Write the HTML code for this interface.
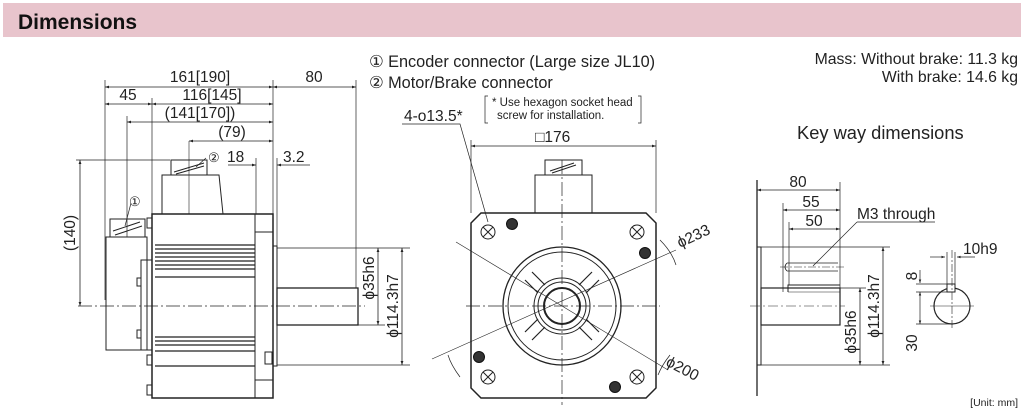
<!DOCTYPE html>
<html><head><meta charset="utf-8"><style>
html,body{margin:0;padding:0;background:#fff;width:1024px;height:411px;overflow:hidden}
svg{display:block;font-family:"Liberation Sans",sans-serif}
</style></head><body>
<svg width="1024" height="411" viewBox="0 0 1024 411" xmlns="http://www.w3.org/2000/svg">
<defs>
<marker id="a" viewBox="0 0 10 10" refX="10" refY="5" markerWidth="7" markerHeight="5" orient="auto-start-reverse"><path d="M0,1.5 L10,5 L0,8.5z" fill="#222"/></marker>
</defs>
<rect x="3" y="3" width="1018" height="34" fill="#e8c4cc"/>
<text x="18" y="29" font-size="21" font-weight="bold" fill="#111">Dimensions</text>

<g font-size="16.3" fill="#222">
<text x="369" y="67">① Encoder connector (Large size JL10)</text>
<text x="369" y="88">② Motor/Brake connector</text>
<text x="1018" y="64" text-anchor="end" font-size="15.8">Mass: Without brake: 11.3 kg</text>
<text x="1018" y="82" text-anchor="end" font-size="15.8">With brake: 14.6 kg</text>
<text x="797" y="139" font-size="18.3">Key way dimensions</text>
<text x="1018" y="406" text-anchor="end" font-size="10.5">[Unit: mm]</text>
</g>

<g stroke="#222" fill="none" stroke-width="1">
<!-- LEFT VIEW -->
<rect x="152" y="214" width="121" height="184" stroke-width="1.5"/>
<line x1="255" y1="214" x2="255" y2="398"/>
<line x1="255" y1="232" x2="273" y2="232"/><line x1="255" y1="380" x2="273" y2="380"/>
<g stroke-width="1.2">
<line x1="155" y1="245" x2="255" y2="245"/><line x1="155" y1="249" x2="255" y2="249"/>
<line x1="155" y1="253" x2="255" y2="253"/><line x1="155" y1="257" x2="255" y2="257"/>
<line x1="155" y1="261" x2="255" y2="261"/><line x1="155" y1="265" x2="255" y2="265"/>
<line x1="155" y1="269" x2="255" y2="269"/><line x1="155" y1="277" x2="255" y2="277"/>
<line x1="155" y1="337" x2="255" y2="337"/><line x1="155" y1="341" x2="255" y2="341"/>
<line x1="155" y1="345" x2="255" y2="345"/><line x1="155" y1="351" x2="255" y2="351"/>
<line x1="155" y1="366" x2="255" y2="366"/>
</g>
<path d="M162,214 V175 H219 L223,214"/>
<rect x="171" y="160" width="36" height="15"/>
<path d="M174,172 L204,163 M176,174 L204,166"/>
<rect x="106" y="237" width="41" height="113"/>
<rect x="141" y="260" width="11" height="90"/>
<rect x="110" y="219" width="35" height="18"/>
<path d="M113,231 L140,222 M115,235 L142,226"/>
<rect x="147" y="218" width="5" height="10"/><rect x="147" y="355" width="5" height="10"/>
<rect x="147" y="385" width="5" height="10"/><rect x="137" y="278" width="4" height="8"/><rect x="137" y="330" width="4" height="8"/>
<rect x="265" y="352" width="7" height="12"/>
<rect x="273" y="246" width="4" height="120"/>
<rect x="277" y="288" width="81" height="37" stroke-width="1.3"/>
<line x1="78" y1="306" x2="365" y2="306" stroke-dasharray="14,3,2,3" stroke-width="0.7"/>
<line x1="189" y1="141" x2="189" y2="214" stroke-width="0.6"/>
<g stroke-width="0.7">
<line x1="105" y1="80" x2="105" y2="300"/><line x1="273" y1="80" x2="273" y2="214"/>
<line x1="152" y1="98" x2="152" y2="214"/><line x1="127" y1="116" x2="127" y2="237"/>
<line x1="356" y1="80" x2="356" y2="288"/>
<line x1="256" y1="158" x2="256" y2="214"/><line x1="277" y1="158" x2="277" y2="246"/>
<line x1="76" y1="160" x2="170" y2="160"/>
<line x1="277" y1="248" x2="410" y2="248"/><line x1="358" y1="325" x2="385" y2="325"/>
<line x1="277" y1="365" x2="410" y2="365"/>
</g>
<g stroke-width="0.8" marker-start="url(#a)" marker-end="url(#a)">
<line x1="105" y1="87" x2="273" y2="87"/><line x1="273" y1="87" x2="356" y2="87"/>
<line x1="105" y1="104" x2="152" y2="104"/><line x1="152" y1="104" x2="273" y2="104"/>
<line x1="127" y1="122" x2="273" y2="122"/><line x1="189" y1="141" x2="273" y2="141"/>
<line x1="80" y1="160" x2="80" y2="306"/>
<line x1="378" y1="248" x2="378" y2="325"/><line x1="402" y1="248" x2="402" y2="365"/>
</g>
<line x1="228" y1="165" x2="256" y2="165" stroke-width="0.8" marker-end="url(#a)"/>
<line x1="310" y1="165" x2="277" y2="165" stroke-width="0.8" marker-end="url(#a)"/>
<line x1="131" y1="203" x2="125" y2="226" stroke-width="0.7"/>
<line x1="206" y1="158" x2="196" y2="167" stroke-width="0.7"/>

<!-- FRONT VIEW -->
<path d="M481,213 H646 L656,223 V388 L646,398 H481 L471,388 V223 Z" stroke-width="1.5"/>
<rect x="535" y="175" width="57" height="38"/>
<rect x="545" y="160" width="37" height="15"/>
<path d="M550,171 L574,163 M552,173 L576,165"/>
<line x1="562" y1="160" x2="562" y2="405" stroke-dasharray="14,3,2,3" stroke-width="0.7"/>
<line x1="466" y1="306" x2="660" y2="306" stroke-dasharray="14,3,2,3" stroke-width="0.7"/>
<circle cx="562" cy="306" r="59" stroke-width="1.3"/>
<circle cx="562" cy="306" r="54"/>
<circle cx="562" cy="306" r="28"/><circle cx="562" cy="306" r="24"/>
<circle cx="562" cy="306" r="18" stroke-width="2"/>
<path d="M532,272 L545,285 M592,272 L579,285 M532,340 L545,327 M592,340 L579,327" stroke-width="1.2"/>
<path d="M525,280 L538,293 M599,280 L586,293 M525,332 L538,319 M599,332 L586,319" stroke-width="1.2"/>
<line x1="456" y1="242" x2="668" y2="370" stroke-width="0.6"/>
<line x1="432" y1="359" x2="676" y2="250" stroke-width="0.6"/>
<g stroke-width="1">
<circle cx="488" cy="232" r="7"/><path d="M483,227 l10,10 M493,227 l-10,10"/>
<circle cx="637" cy="232" r="7"/><path d="M632,227 l10,10 M642,227 l-10,10"/>
<circle cx="488" cy="377" r="7"/><path d="M483,372 l10,10 M493,372 l-10,10"/>
<circle cx="637" cy="377" r="7"/><path d="M632,372 l10,10 M642,372 l-10,10"/>
</g>
<g fill="#333" stroke="#111"><circle cx="512" cy="224" r="5.5"/><circle cx="645" cy="253" r="5.5"/><circle cx="479" cy="357" r="5.5"/><circle cx="615" cy="387" r="5.5"/></g>
<path d="M471,213 V140 M656,213 V140" stroke-width="0.7"/>
<line x1="471" y1="146" x2="656" y2="146" stroke-width="0.8" marker-start="url(#a)" marker-end="url(#a)"/>
<path d="M402,124 H460 L488,222" stroke-width="0.7"/>
<path d="M488,96 h-3 v27 h3 M638,96 h3 v27 h-3" stroke-width="0.7"/>
<path d="M660,240 q12,12 16,25" stroke-width="0.7"/>
<path d="M670,355 q-8,10 -12,20" stroke-width="0.7"/>
<path d="M448,355 q3,10 12,22" stroke-width="0.7"/>

<!-- KEYWAY VIEW -->
<line x1="757" y1="180" x2="757" y2="396" stroke-width="1.3"/>
<rect x="757" y="247" width="4" height="118"/>
<rect x="761" y="288" width="79" height="37" stroke-width="1.2"/>
<path d="M788,292 V285 H840" /><line x1="788" y1="292" x2="840" y2="292" stroke-width="0.6"/>
<path d="M787,263 H838 M787,271 H838 M787,263 q-4,4 0,8" stroke-width="0.8"/>
<line x1="780" y1="267" x2="845" y2="267" stroke-dasharray="8,2,2,2" stroke-width="0.6"/>
<line x1="750" y1="306" x2="845" y2="306" stroke-dasharray="10,3,2,3" stroke-width="0.6"/>
<g stroke-width="0.7">
<line x1="840" y1="182" x2="840" y2="288"/><line x1="783" y1="203" x2="783" y2="292"/><line x1="789" y1="222" x2="789" y2="285"/>
<line x1="761" y1="247" x2="890" y2="247"/><line x1="840" y1="288" x2="866" y2="288"/><line x1="761" y1="365" x2="890" y2="365"/>
<path d="M857,222 H935 M857,222 L813,266"/>
</g>
<g stroke-width="0.8" marker-start="url(#a)" marker-end="url(#a)">
<line x1="757" y1="190" x2="840" y2="190"/><line x1="783" y1="210" x2="840" y2="210"/><line x1="789" y1="229" x2="840" y2="229"/>
<line x1="883" y1="247" x2="883" y2="365"/><line x1="860" y1="288" x2="860" y2="365"/>
</g>
<circle cx="952" cy="306" r="18" stroke-width="1.2"/>
<rect x="947" y="284" width="8" height="8" fill="#fff"/>
<line x1="930" y1="306" x2="974" y2="306" stroke-width="0.6"/>
<line x1="952" y1="250" x2="952" y2="330" stroke-dasharray="8,2,2,2" stroke-width="0.6"/>
<g stroke-width="0.7">
<line x1="947" y1="252" x2="947" y2="284"/><line x1="955" y1="252" x2="955" y2="284"/>
<line x1="930" y1="257" x2="945" y2="257" marker-end="url(#a)"/><line x1="975" y1="257" x2="957" y2="257" marker-end="url(#a)"/>
<line x1="916" y1="284" x2="947" y2="284"/><line x1="916" y1="292" x2="947" y2="292"/><line x1="916" y1="324" x2="952" y2="324"/>
<line x1="920" y1="270" x2="920" y2="283" marker-end="url(#a)"/>
<line x1="920" y1="292" x2="920" y2="324" marker-start="url(#a)" marker-end="url(#a)"/>
</g>
</g>

<g font-size="15.5" fill="#222">
<text x="200" y="82" text-anchor="middle">161[190]</text>
<text x="314" y="82" text-anchor="middle">80</text>
<text x="128" y="100" text-anchor="middle">45</text>
<text x="212" y="100" text-anchor="middle">116[145]</text>
<text x="200" y="118" text-anchor="middle">(141[170])</text>
<text x="232" y="137" text-anchor="middle">(79)</text>
<text x="227" y="162">18</text>
<text x="283" y="162">3.2</text>
<text x="208" y="162" font-size="13">②</text>
<text x="129" y="206" font-size="13">①</text>
<text transform="translate(75,233) rotate(-90)" text-anchor="middle">(140)</text>
<text transform="translate(374,278) rotate(-90)" text-anchor="middle">ϕ35h6</text>
<text transform="translate(398,306) rotate(-90)" text-anchor="middle">ϕ114.3h7</text>
<text x="404" y="121">4-ο13.5*</text>
<text x="492" y="106" font-size="11.5">* Use hexagon socket head</text>
<text x="497" y="119" font-size="11.5">screw for installation.</text>
<text x="535" y="142">□176</text>
<text transform="translate(680,248) rotate(-25)">ϕ233</text>
<text transform="translate(665,365) rotate(28)">ϕ200</text>
<text x="798" y="187" text-anchor="middle">80</text>
<text x="811" y="207" text-anchor="middle">55</text>
<text x="814" y="226" text-anchor="middle">50</text>
<text x="857" y="219">M3 through</text>
<text transform="translate(879,306) rotate(-90)" text-anchor="middle">ϕ114.3h7</text>
<text transform="translate(856,332) rotate(-90)" text-anchor="middle">ϕ35h6</text>
<text x="963" y="254">10h9</text>
<text transform="translate(917,276) rotate(-90)" text-anchor="middle">8</text>
<text transform="translate(917,343) rotate(-90)" text-anchor="middle">30</text>
</g>
</svg>
</body></html>
